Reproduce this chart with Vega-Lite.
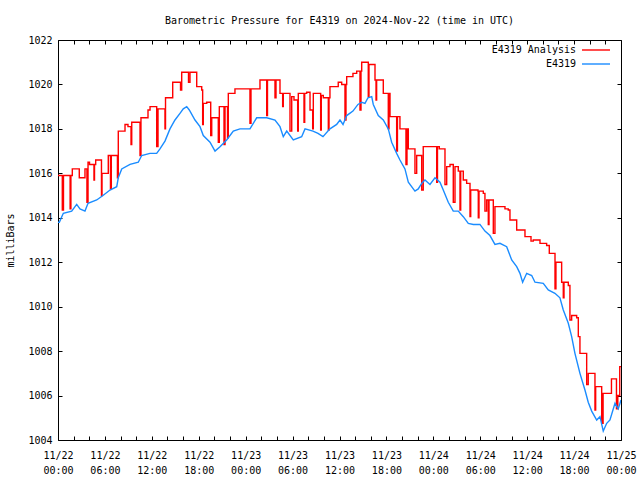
{
  "$schema": "https://vega.github.io/schema/vega-lite/v6.json",
  "width": 563,
  "height": 400,
  "autosize": {"type": "none"},
  "padding": {"left": 58, "top": 40, "right": 19, "bottom": 40},
  "background": "white",
  "title": {"text": "Barometric Pressure for E4319 on 2024-Nov-22 (time in UTC)", "font": "DejaVu Sans Mono", "fontSize": 10, "fontWeight": "normal", "color": "black", "offset": 9, "anchor": "middle"},
  "config": {
    "view": {"stroke": "black", "strokeWidth": 1},
    "axis": {"grid": false, "domain": false, "labelFont": "DejaVu Sans Mono", "labelFontSize": 10, "labelColor": "black", "tickColor": "black", "tickSize": 4, "offset": -4, "titleFont": "DejaVu Sans Mono", "titleFontSize": 10, "titleFontWeight": "normal", "titleColor": "black", "labelOverlap": false, "labelFlush": false},
    "legend": {"labelFont": "DejaVu Sans Mono", "labelFontSize": 10, "labelColor": "black", "symbolType": "M-2,0H2", "symbolSize": 196, "symbolStrokeWidth": 1.4, "labelAlign": "right", "labelOffset": -28, "rowPadding": 1}
  },
  "datasets": {
    "pressure": [
      {"series": "E4319 Analysis", "hour": 0, "mb": 1015.9},
      {"series": "E4319 Analysis", "hour": 0.55, "mb": 1014.35},
      {"series": "E4319 Analysis", "hour": 0.7, "mb": 1015.9},
      {"series": "E4319 Analysis", "hour": 1.55, "mb": 1014.4},
      {"series": "E4319 Analysis", "hour": 1.65, "mb": 1015.9},
      {"series": "E4319 Analysis", "hour": 1.83, "mb": 1016.2},
      {"series": "E4319 Analysis", "hour": 2.72, "mb": 1015.8},
      {"series": "E4319 Analysis", "hour": 3.45, "mb": 1016.2},
      {"series": "E4319 Analysis", "hour": 3.7, "mb": 1014.7},
      {"series": "E4319 Analysis", "hour": 3.84, "mb": 1016.5},
      {"series": "E4319 Analysis", "hour": 4.03, "mb": 1016.4},
      {"series": "E4319 Analysis", "hour": 4.6, "mb": 1015.7},
      {"series": "E4319 Analysis", "hour": 4.67, "mb": 1016.4},
      {"series": "E4319 Analysis", "hour": 4.82, "mb": 1016.6},
      {"series": "E4319 Analysis", "hour": 5.56, "mb": 1015.0},
      {"series": "E4319 Analysis", "hour": 5.63, "mb": 1016.0},
      {"series": "E4319 Analysis", "hour": 6.43, "mb": 1016.8},
      {"series": "E4319 Analysis", "hour": 6.71, "mb": 1015.3},
      {"series": "E4319 Analysis", "hour": 6.82, "mb": 1016.8},
      {"series": "E4319 Analysis", "hour": 7.6, "mb": 1015.8},
      {"series": "E4319 Analysis", "hour": 7.71, "mb": 1017.9},
      {"series": "E4319 Analysis", "hour": 8.57, "mb": 1018.2},
      {"series": "E4319 Analysis", "hour": 8.95, "mb": 1018.1},
      {"series": "E4319 Analysis", "hour": 9.34, "mb": 1017.3},
      {"series": "E4319 Analysis", "hour": 9.43, "mb": 1018.3},
      {"series": "E4319 Analysis", "hour": 10.49, "mb": 1016.8},
      {"series": "E4319 Analysis", "hour": 10.61, "mb": 1018.5},
      {"series": "E4319 Analysis", "hour": 11.51, "mb": 1018.85},
      {"series": "E4319 Analysis", "hour": 11.77, "mb": 1019.0},
      {"series": "E4319 Analysis", "hour": 12.62, "mb": 1017.2},
      {"series": "E4319 Analysis", "hour": 12.79, "mb": 1018.9},
      {"series": "E4319 Analysis", "hour": 13.68, "mb": 1018.0},
      {"series": "E4319 Analysis", "hour": 13.75, "mb": 1019.4},
      {"series": "E4319 Analysis", "hour": 14.67, "mb": 1020.1},
      {"series": "E4319 Analysis", "hour": 15.67, "mb": 1019.75},
      {"series": "E4319 Analysis", "hour": 15.82, "mb": 1020.55},
      {"series": "E4319 Analysis", "hour": 16.69, "mb": 1020.1},
      {"series": "E4319 Analysis", "hour": 16.88, "mb": 1020.55},
      {"series": "E4319 Analysis", "hour": 17.74, "mb": 1019.9},
      {"series": "E4319 Analysis", "hour": 18.38, "mb": 1019.75},
      {"series": "E4319 Analysis", "hour": 18.5, "mb": 1018.2},
      {"series": "E4319 Analysis", "hour": 18.58, "mb": 1019.15},
      {"series": "E4319 Analysis", "hour": 19.02, "mb": 1019.2},
      {"series": "E4319 Analysis", "hour": 19.53, "mb": 1017.7},
      {"series": "E4319 Analysis", "hour": 19.66, "mb": 1018.5},
      {"series": "E4319 Analysis", "hour": 20.5, "mb": 1017.4},
      {"series": "E4319 Analysis", "hour": 20.63, "mb": 1019.0},
      {"series": "E4319 Analysis", "hour": 21.23, "mb": 1017.3},
      {"series": "E4319 Analysis", "hour": 21.36, "mb": 1019.0},
      {"series": "E4319 Analysis", "hour": 21.68, "mb": 1017.6},
      {"series": "E4319 Analysis", "hour": 21.78, "mb": 1019.6},
      {"series": "E4319 Analysis", "hour": 22.63, "mb": 1019.8},
      {"series": "E4319 Analysis", "hour": 24.55, "mb": 1018.25},
      {"series": "E4319 Analysis", "hour": 24.68, "mb": 1019.8},
      {"series": "E4319 Analysis", "hour": 25.83, "mb": 1020.2},
      {"series": "E4319 Analysis", "hour": 26.69, "mb": 1018.6},
      {"series": "E4319 Analysis", "hour": 26.79, "mb": 1020.2},
      {"series": "E4319 Analysis", "hour": 27.75, "mb": 1019.4},
      {"series": "E4319 Analysis", "hour": 27.88, "mb": 1020.2},
      {"series": "E4319 Analysis", "hour": 28.39, "mb": 1019.6},
      {"series": "E4319 Analysis", "hour": 28.73, "mb": 1019.0},
      {"series": "E4319 Analysis", "hour": 28.81, "mb": 1019.6},
      {"series": "E4319 Analysis", "hour": 29.67, "mb": 1017.9},
      {"series": "E4319 Analysis", "hour": 29.89, "mb": 1019.45},
      {"series": "E4319 Analysis", "hour": 30.18, "mb": 1019.3},
      {"series": "E4319 Analysis", "hour": 30.65, "mb": 1017.9},
      {"series": "E4319 Analysis", "hour": 30.73, "mb": 1019.6},
      {"series": "E4319 Analysis", "hour": 31.46, "mb": 1018.3},
      {"series": "E4319 Analysis", "hour": 31.55, "mb": 1019.6},
      {"series": "E4319 Analysis", "hour": 31.8, "mb": 1019.65},
      {"series": "E4319 Analysis", "hour": 32.23, "mb": 1018.85},
      {"series": "E4319 Analysis", "hour": 32.57, "mb": 1018.0},
      {"series": "E4319 Analysis", "hour": 32.65, "mb": 1019.6},
      {"series": "E4319 Analysis", "hour": 33.59, "mb": 1017.95},
      {"series": "E4319 Analysis", "hour": 33.67, "mb": 1019.5},
      {"series": "E4319 Analysis", "hour": 33.93, "mb": 1019.4},
      {"series": "E4319 Analysis", "hour": 34.57, "mb": 1017.95},
      {"series": "E4319 Analysis", "hour": 34.66, "mb": 1019.4},
      {"series": "E4319 Analysis", "hour": 34.78, "mb": 1019.9},
      {"series": "E4319 Analysis", "hour": 35.84, "mb": 1020.1},
      {"series": "E4319 Analysis", "hour": 36.28, "mb": 1020.0},
      {"series": "E4319 Analysis", "hour": 36.7, "mb": 1018.4},
      {"series": "E4319 Analysis", "hour": 36.83, "mb": 1020.0},
      {"series": "E4319 Analysis", "hour": 36.92, "mb": 1020.35},
      {"series": "E4319 Analysis", "hour": 37.72, "mb": 1020.5},
      {"series": "E4319 Analysis", "hour": 38.2, "mb": 1020.6},
      {"series": "E4319 Analysis", "hour": 38.62, "mb": 1018.85},
      {"series": "E4319 Analysis", "hour": 38.75, "mb": 1020.6},
      {"series": "E4319 Analysis", "hour": 38.84, "mb": 1021.0},
      {"series": "E4319 Analysis", "hour": 39.68, "mb": 1019.45},
      {"series": "E4319 Analysis", "hour": 39.77, "mb": 1020.9},
      {"series": "E4319 Analysis", "hour": 40.54, "mb": 1020.2},
      {"series": "E4319 Analysis", "hour": 40.67, "mb": 1019.3},
      {"series": "E4319 Analysis", "hour": 40.75, "mb": 1020.2},
      {"series": "E4319 Analysis", "hour": 41.6, "mb": 1019.6},
      {"series": "E4319 Analysis", "hour": 42.24, "mb": 1018.0},
      {"series": "E4319 Analysis", "hour": 42.33, "mb": 1019.6},
      {"series": "E4319 Analysis", "hour": 42.46, "mb": 1018.55},
      {"series": "E4319 Analysis", "hour": 43.31, "mb": 1017.0},
      {"series": "E4319 Analysis", "hour": 43.41, "mb": 1018.55},
      {"series": "E4319 Analysis", "hour": 43.73, "mb": 1018.0},
      {"series": "E4319 Analysis", "hour": 44.5, "mb": 1016.4},
      {"series": "E4319 Analysis", "hour": 44.63, "mb": 1018.0},
      {"series": "E4319 Analysis", "hour": 44.8, "mb": 1017.1},
      {"series": "E4319 Analysis", "hour": 45.65, "mb": 1016.0},
      {"series": "E4319 Analysis", "hour": 45.87, "mb": 1016.8},
      {"series": "E4319 Analysis", "hour": 46.51, "mb": 1015.25},
      {"series": "E4319 Analysis", "hour": 46.71, "mb": 1017.2},
      {"series": "E4319 Analysis", "hour": 48.43, "mb": 1015.6},
      {"series": "E4319 Analysis", "hour": 48.53, "mb": 1017.2},
      {"series": "E4319 Analysis", "hour": 48.76, "mb": 1017.1},
      {"series": "E4319 Analysis", "hour": 49.49, "mb": 1015.5},
      {"series": "E4319 Analysis", "hour": 49.71, "mb": 1016.3},
      {"series": "E4319 Analysis", "hour": 50.13, "mb": 1016.4},
      {"series": "E4319 Analysis", "hour": 50.55, "mb": 1014.7},
      {"series": "E4319 Analysis", "hour": 50.77, "mb": 1016.3},
      {"series": "E4319 Analysis", "hour": 51.19, "mb": 1016.1},
      {"series": "E4319 Analysis", "hour": 51.41, "mb": 1014.35},
      {"series": "E4319 Analysis", "hour": 51.5, "mb": 1016.1},
      {"series": "E4319 Analysis", "hour": 51.83, "mb": 1015.7},
      {"series": "E4319 Analysis", "hour": 52.26, "mb": 1015.55},
      {"series": "E4319 Analysis", "hour": 52.69, "mb": 1014.05},
      {"series": "E4319 Analysis", "hour": 52.78, "mb": 1015.25},
      {"series": "E4319 Analysis", "hour": 53.71, "mb": 1015.2},
      {"series": "E4319 Analysis", "hour": 53.75, "mb": 1014.0},
      {"series": "E4319 Analysis", "hour": 53.84, "mb": 1015.2},
      {"series": "E4319 Analysis", "hour": 54.39, "mb": 1015.1},
      {"series": "E4319 Analysis", "hour": 54.6, "mb": 1014.3},
      {"series": "E4319 Analysis", "hour": 54.82, "mb": 1014.8},
      {"series": "E4319 Analysis", "hour": 55.03, "mb": 1013.7},
      {"series": "E4319 Analysis", "hour": 55.12, "mb": 1014.8},
      {"series": "E4319 Analysis", "hour": 55.67, "mb": 1013.3},
      {"series": "E4319 Analysis", "hour": 55.88, "mb": 1014.5},
      {"series": "E4319 Analysis", "hour": 57.16, "mb": 1014.4},
      {"series": "E4319 Analysis", "hour": 57.58, "mb": 1014.35},
      {"series": "E4319 Analysis", "hour": 57.8, "mb": 1013.9},
      {"series": "E4319 Analysis", "hour": 58.66, "mb": 1013.45},
      {"series": "E4319 Analysis", "hour": 59.72, "mb": 1013.15},
      {"series": "E4319 Analysis", "hour": 60.49, "mb": 1012.95},
      {"series": "E4319 Analysis", "hour": 60.78, "mb": 1013.0},
      {"series": "E4319 Analysis", "hour": 61.64, "mb": 1012.85},
      {"series": "E4319 Analysis", "hour": 62.49, "mb": 1012.75},
      {"series": "E4319 Analysis", "hour": 62.83, "mb": 1012.4},
      {"series": "E4319 Analysis", "hour": 63.56, "mb": 1010.8},
      {"series": "E4319 Analysis", "hour": 63.68, "mb": 1012.0},
      {"series": "E4319 Analysis", "hour": 64.41, "mb": 1011.1},
      {"series": "E4319 Analysis", "hour": 64.62, "mb": 1010.4},
      {"series": "E4319 Analysis", "hour": 64.71, "mb": 1011.1},
      {"series": "E4319 Analysis", "hour": 65.26, "mb": 1010.95},
      {"series": "E4319 Analysis", "hour": 65.47, "mb": 1009.4},
      {"series": "E4319 Analysis", "hour": 65.69, "mb": 1009.6},
      {"series": "E4319 Analysis", "hour": 66.33, "mb": 1009.5},
      {"series": "E4319 Analysis", "hour": 66.54, "mb": 1008.65},
      {"series": "E4319 Analysis", "hour": 66.75, "mb": 1007.9},
      {"series": "E4319 Analysis", "hour": 67.61, "mb": 1006.5},
      {"series": "E4319 Analysis", "hour": 67.81, "mb": 1007.0},
      {"series": "E4319 Analysis", "hour": 68.67, "mb": 1005.35},
      {"series": "E4319 Analysis", "hour": 68.76, "mb": 1006.4},
      {"series": "E4319 Analysis", "hour": 69.53, "mb": 1004.75},
      {"series": "E4319 Analysis", "hour": 69.71, "mb": 1006.1},
      {"series": "E4319 Analysis", "hour": 70.78, "mb": 1006.75},
      {"series": "E4319 Analysis", "hour": 71.42, "mb": 1005.4},
      {"series": "E4319 Analysis", "hour": 71.59, "mb": 1006.0},
      {"series": "E4319 Analysis", "hour": 71.84, "mb": 1007.3},
      {"series": "E4319 Analysis", "hour": 72, "mb": 1007.3},
      {"series": "E4319", "hour": 0, "mb": 1013.8},
      {"series": "E4319", "hour": 0.17, "mb": 1013.8},
      {"series": "E4319", "hour": 0.68, "mb": 1014.2},
      {"series": "E4319", "hour": 1.75, "mb": 1014.3},
      {"series": "E4319", "hour": 2.39, "mb": 1014.6},
      {"series": "E4319", "hour": 2.81, "mb": 1014.4},
      {"series": "E4319", "hour": 3.45, "mb": 1014.3},
      {"series": "E4319", "hour": 3.84, "mb": 1014.65},
      {"series": "E4319", "hour": 4.95, "mb": 1014.8},
      {"series": "E4319", "hour": 5.75, "mb": 1015.0},
      {"series": "E4319", "hour": 6.65, "mb": 1015.25},
      {"series": "E4319", "hour": 7.51, "mb": 1015.4},
      {"series": "E4319", "hour": 7.71, "mb": 1015.8},
      {"series": "E4319", "hour": 8.15, "mb": 1016.2},
      {"series": "E4319", "hour": 9.21, "mb": 1016.4},
      {"series": "E4319", "hour": 10.27, "mb": 1016.5},
      {"series": "E4319", "hour": 10.7, "mb": 1016.8},
      {"series": "E4319", "hour": 11.76, "mb": 1016.9},
      {"series": "E4319", "hour": 12.62, "mb": 1016.9},
      {"series": "E4319", "hour": 13.04, "mb": 1017.1},
      {"series": "E4319", "hour": 13.68, "mb": 1017.45},
      {"series": "E4319", "hour": 14.32, "mb": 1018.0},
      {"series": "E4319", "hour": 14.96, "mb": 1018.4},
      {"series": "E4319", "hour": 15.6, "mb": 1018.7},
      {"series": "E4319", "hour": 16.02, "mb": 1018.9},
      {"series": "E4319", "hour": 16.46, "mb": 1019.0},
      {"series": "E4319", "hour": 16.79, "mb": 1018.85},
      {"series": "E4319", "hour": 17.52, "mb": 1018.4},
      {"series": "E4319", "hour": 18.16, "mb": 1018.1},
      {"series": "E4319", "hour": 18.58, "mb": 1017.7},
      {"series": "E4319", "hour": 19.44, "mb": 1017.4},
      {"series": "E4319", "hour": 20.08, "mb": 1017.0},
      {"series": "E4319", "hour": 20.72, "mb": 1017.2},
      {"series": "E4319", "hour": 21.57, "mb": 1017.5},
      {"series": "E4319", "hour": 22.42, "mb": 1017.9},
      {"series": "E4319", "hour": 23.27, "mb": 1018.0},
      {"series": "E4319", "hour": 24.55, "mb": 1018.0},
      {"series": "E4319", "hour": 25.41, "mb": 1018.5},
      {"series": "E4319", "hour": 26.69, "mb": 1018.5},
      {"series": "E4319", "hour": 27.75, "mb": 1018.4},
      {"series": "E4319", "hour": 28.39, "mb": 1018.1},
      {"series": "E4319", "hour": 28.81, "mb": 1017.65},
      {"series": "E4319", "hour": 29.25, "mb": 1017.9},
      {"series": "E4319", "hour": 30.09, "mb": 1017.5},
      {"series": "E4319", "hour": 31.16, "mb": 1017.65},
      {"series": "E4319", "hour": 31.59, "mb": 1018.0},
      {"series": "E4319", "hour": 32.61, "mb": 1017.9},
      {"series": "E4319", "hour": 33.25, "mb": 1017.8},
      {"series": "E4319", "hour": 33.89, "mb": 1017.65},
      {"series": "E4319", "hour": 34.78, "mb": 1018.0},
      {"series": "E4319", "hour": 35.64, "mb": 1018.2},
      {"series": "E4319", "hour": 36.06, "mb": 1018.4},
      {"series": "E4319", "hour": 36.45, "mb": 1018.2},
      {"series": "E4319", "hour": 36.92, "mb": 1018.6},
      {"series": "E4319", "hour": 37.72, "mb": 1018.8},
      {"series": "E4319", "hour": 38.36, "mb": 1019.1},
      {"series": "E4319", "hour": 38.84, "mb": 1019.2},
      {"series": "E4319", "hour": 39.26, "mb": 1019.15},
      {"series": "E4319", "hour": 39.64, "mb": 1019.4},
      {"series": "E4319", "hour": 40.12, "mb": 1019.45},
      {"series": "E4319", "hour": 40.32, "mb": 1019.1},
      {"series": "E4319", "hour": 40.96, "mb": 1018.6},
      {"series": "E4319", "hour": 41.6, "mb": 1018.4},
      {"series": "E4319", "hour": 42.24, "mb": 1018.0},
      {"series": "E4319", "hour": 42.67, "mb": 1017.4},
      {"series": "E4319", "hour": 43.31, "mb": 1016.9},
      {"series": "E4319", "hour": 43.73, "mb": 1016.6},
      {"series": "E4319", "hour": 44.37, "mb": 1016.2},
      {"series": "E4319", "hour": 44.8, "mb": 1015.6},
      {"series": "E4319", "hour": 45.65, "mb": 1015.2},
      {"series": "E4319", "hour": 46.07, "mb": 1015.3},
      {"series": "E4319", "hour": 46.51, "mb": 1015.55},
      {"series": "E4319", "hour": 46.93, "mb": 1015.7},
      {"series": "E4319", "hour": 47.57, "mb": 1015.5},
      {"series": "E4319", "hour": 48.21, "mb": 1015.8},
      {"series": "E4319", "hour": 48.85, "mb": 1015.6},
      {"series": "E4319", "hour": 49.27, "mb": 1015.25},
      {"series": "E4319", "hour": 49.91, "mb": 1014.7},
      {"series": "E4319", "hour": 50.55, "mb": 1014.3},
      {"series": "E4319", "hour": 51.19, "mb": 1014.3},
      {"series": "E4319", "hour": 51.83, "mb": 1014.05},
      {"series": "E4319", "hour": 52.47, "mb": 1013.75},
      {"series": "E4319", "hour": 53.11, "mb": 1013.7},
      {"series": "E4319", "hour": 53.96, "mb": 1013.7},
      {"series": "E4319", "hour": 54.6, "mb": 1013.4},
      {"series": "E4319", "hour": 55.24, "mb": 1013.2},
      {"series": "E4319", "hour": 55.88, "mb": 1012.8},
      {"series": "E4319", "hour": 56.52, "mb": 1012.85},
      {"series": "E4319", "hour": 57.38, "mb": 1012.7},
      {"series": "E4319", "hour": 58.02, "mb": 1012.1},
      {"series": "E4319", "hour": 58.66, "mb": 1011.8},
      {"series": "E4319", "hour": 59.08, "mb": 1011.5},
      {"series": "E4319", "hour": 59.42, "mb": 1011.1},
      {"series": "E4319", "hour": 59.94, "mb": 1011.5},
      {"series": "E4319", "hour": 60.58, "mb": 1011.4},
      {"series": "E4319", "hour": 61.0, "mb": 1011.1},
      {"series": "E4319", "hour": 62.06, "mb": 1011.05},
      {"series": "E4319", "hour": 62.7, "mb": 1010.75},
      {"series": "E4319", "hour": 63.55, "mb": 1010.6},
      {"series": "E4319", "hour": 64.19, "mb": 1010.4},
      {"series": "E4319", "hour": 64.62, "mb": 1009.85},
      {"series": "E4319", "hour": 65.26, "mb": 1009.25},
      {"series": "E4319", "hour": 65.69, "mb": 1008.65},
      {"series": "E4319", "hour": 66.11, "mb": 1007.9},
      {"series": "E4319", "hour": 66.75, "mb": 1007.0},
      {"series": "E4319", "hour": 67.39, "mb": 1006.25},
      {"series": "E4319", "hour": 67.81, "mb": 1005.7},
      {"series": "E4319", "hour": 68.25, "mb": 1005.3},
      {"series": "E4319", "hour": 68.89, "mb": 1004.9},
      {"series": "E4319", "hour": 69.31, "mb": 1005.05},
      {"series": "E4319", "hour": 69.73, "mb": 1004.4},
      {"series": "E4319", "hour": 70.17, "mb": 1004.75},
      {"series": "E4319", "hour": 70.59, "mb": 1004.9},
      {"series": "E4319", "hour": 71.23, "mb": 1005.65},
      {"series": "E4319", "hour": 71.65, "mb": 1005.4},
      {"series": "E4319", "hour": 72, "mb": 1005.8}
    ]
  },
  "data": {"name": "pressure"},
  "layer": [
    {
      "transform": [{"filter": "datum.series === 'E4319 Analysis'"}],
      "mark": {"type": "line", "interpolate": "step-after", "strokeWidth": 1.4, "clip": true},
      "encoding": {
        "x": {"field": "hour", "type": "quantitative", "scale": {"domain": [0, 72], "nice": false, "zero": false},
              "axis": {"orient": "bottom", "title": null, "values": [0,2,4,6,8,10,12,14,16,18,20,22,24,26,28,30,32,34,36,38,40,42,44,46,48,50,52,54,56,58,60,62,64,66,68,70,72],
                       "labelExpr": "datum.value % 6 == 0 ? ['11/' + (22 + floor(datum.value / 24)), (datum.value % 24 < 10 ? '0' : '') + (datum.value % 24) + ':00'] : ''",
                       "labelLineHeight": 15, "labelPadding": 10, "labelAlign": "center"}},
        "y": {"field": "mb", "type": "quantitative", "scale": {"domain": [1004, 1022], "nice": false, "zero": false},
              "axis": {"orient": "left", "title": "milliBars", "values": [1004,1006,1008,1010,1012,1014,1016,1018,1020,1022], "format": "d", "labelPadding": 6, "titlePadding": 12}},
        "color": {"field": "series", "type": "nominal", "scale": {"domain": ["E4319 Analysis", "E4319"], "range": ["#ff0000", "#1a8cff"]},
                  "legend": {"title": null, "orient": "none", "legendX": 530, "legendY": 2}}
      }
    },
    {
      "transform": [{"filter": "datum.series === 'E4319'"}],
      "mark": {"type": "line", "strokeWidth": 1.4, "clip": true},
      "encoding": {
        "x": {"field": "hour", "type": "quantitative",
              "axis": {"orient": "top", "title": null, "labels": false, "values": [0,2,4,6,8,10,12,14,16,18,20,22,24,26,28,30,32,34,36,38,40,42,44,46,48,50,52,54,56,58,60,62,64,66,68,70,72]}},
        "y": {"field": "mb", "type": "quantitative",
              "axis": {"orient": "right", "title": null, "labels": false, "values": [1004,1006,1008,1010,1012,1014,1016,1018,1020,1022]}},
        "color": {"field": "series", "type": "nominal"}
      }
    }
  ],
  "resolve": {"axis": {"x": "independent", "y": "independent"}}
}
